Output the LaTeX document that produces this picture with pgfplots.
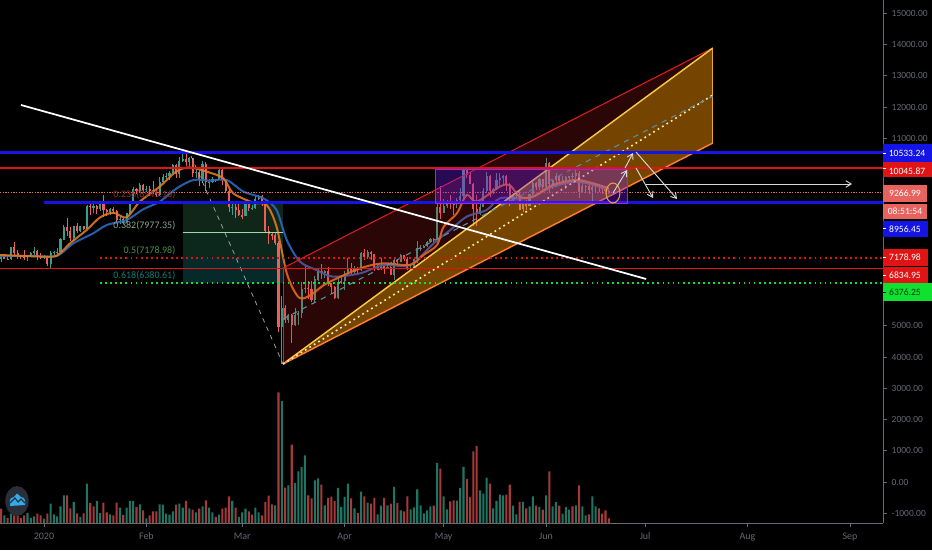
\documentclass[border=0pt]{standalone}
\usepackage{pgfplots}
\usepackage{pgfplotstable}
\usepackage{fontspec}
\setmainfont{Carlito}
\pgfplotsset{compat=1.18}
\usetikzlibrary{arrows.meta}
\definecolor{upc}{HTML}{3E9C8C}
\definecolor{dnc}{HTML}{EE5F5A}
\definecolor{vup}{HTML}{1F7564}
\definecolor{vdn}{HTML}{A63A3A}
\definecolor{axgray}{HTML}{666974}
\definecolor{tblue}{HTML}{1414E6}
\definecolor{tred}{HTML}{E01414}
\definecolor{tsal}{HTML}{E8625E}
\definecolor{tgreen}{HTML}{10E030}
\definecolor{fa}{RGB}{16,38,24}
\definecolor{fb}{RGB}{12,40,28}
\definecolor{fc}{RGB}{6,42,42}
\definecolor{emas}{RGB}{42,105,190}
\definecolor{emaf}{RGB}{226,122,32}
\definecolor{chred}{RGB}{216,30,30}
\definecolor{chor}{RGB}{255,152,0}
\definecolor{chyel}{RGB}{245,200,66}
\definecolor{chorl}{RGB}{255,125,45}
\definecolor{chedge}{RGB}{230,170,50}
\definecolor{chdot}{RGB}{255,235,180}
\definecolor{chdash}{RGB}{90,145,165}
\definecolor{fibl}{RGB}{165,214,167}
\definecolor{la}{RGB}{140,50,50}
\definecolor{lb}{RGB}{135,165,140}
\definecolor{lc}{RGB}{75,140,75}
\definecolor{ld}{RGB}{15,125,115}
\definecolor{boxf}{RGB}{123,31,255}
\definecolor{boxd}{RGB}{150,40,230}
\definecolor{ell}{RGB}{226,160,60}
\definecolor{dgreen}{RGB}{0,60,20}
\definecolor{logob}{RGB}{42,46,57}
\definecolor{logoc}{RGB}{50,170,235}
\pgfplotstableread{
d o h l c
-13 7140 7210 7050 7190
-12 7190 7220 7120 7150
-11 7150 7190 7120 7140
-10 7140 7520 7110 7510
-9 7510 7680 7260 7320
-8 7320 7440 7150 7250
-7 7250 7270 7130 7200
-6 7200 7430 7110 7190
-5 7190 7280 7080 7250
-4 7250 7360 7220 7320
-3 7320 7520 7280 7390
-2 7390 7410 7120 7220
-1 7220 7320 7150 7170
0 7170 7260 7150 7200
1 7200 7210 6900 6965
2 6965 7400 6850 7340
3 7340 7400 7270 7355
4 7355 7490 7310 7360
5 7360 7800 7350 7760
6 7760 8210 7730 8160
7 8160 8460 7880 8045
8 8045 8170 7720 7815
9 7815 8200 7700 8180
10 8180 8300 7960 8020
11 8020 8200 8000 8190
12 8190 8200 8060 8110
13 8110 8880 8110 8840
14 8840 8900 8540 8810
15 8810 8900 8620 8820
16 8820 8870 8570 8720
17 8720 9000 8680 8900
18 8900 9190 8480 8700
19 8700 8750 8520 8630
20 8630 8780 8560 8730
21 8730 8800 8560 8660
22 8660 8700 8300 8390
23 8390 8520 8240 8430
24 8430 8460 8260 8330
25 8330 8620 8290 8600
26 8600 8970 8560 8900
27 8900 9430 8880 9390
28 9390 9400 9200 9300
29 9300 9580 9250 9500
30 9500 9530 9240 9350
31 9350 9460 9290 9380
32 9380 9480 9150 9340
33 9340 9620 9220 9290
34 9290 9350 9120 9180
35 9180 9770 9160 9615
36 9615 9860 9520 9760
37 9760 9880 9680 9800
38 9800 9950 9680 9900
39 9900 10170 9880 10150
40 10150 10190 9730 9850
41 9850 10390 9730 10270
42 10270 10480 10250 10350
43 10350 10520 10100 10240
44 10240 10400 10120 10370
45 10370 10380 9750 9900
46 9900 10070 9720 9930
47 9930 9970 9460 9700
48 9700 10280 9580 10180
49 10180 10250 9300 9600
50 9600 9680 9400 9610
51 9610 9770 9570 9690
52 9690 9700 9600 9665
53 9665 10000 9650 9970
54 9970 10030 9500 9660
55 9660 9670 9260 9310
56 9310 9370 8640 8790
57 8790 8980 8530 8810
58 8810 8900 8450 8710
59 8710 8900 8520 8530
60 8530 8750 8410 8520
61 8520 8950 8500 8910
62 8910 8920 8660 8755
63 8755 8850 8700 8760
64 8760 9150 8750 9070
65 9070 9170 9010 9160
66 9160 9190 8840 8900
67 8900 8900 8000 8040
68 8040 8200 7630 7930
69 7930 8000 7730 7900
70 7900 7980 7590 7650
71 7650 7700 4800 4970
72 4970 5960 3780 5560
73 5560 5660 5090 5170
74 5170 5370 5100 5360
75 5360 5380 4450 5030
76 5030 5570 4990 5330
77 5330 5460 5030 5420
78 5420 6390 5260 6190
79 6190 6900 6050 6200
80 6200 6440 5870 6190
81 6190 6430 5760 5830
82 5830 6600 5720 6480
83 6480 6840 6420 6760
84 6760 6980 6500 6690
85 6690 6780 6530 6760
86 6760 6870 6260 6370
87 6370 6370 6030 6250
88 6250 6270 5860 5880
89 5880 6520 5860 6400
90 6400 6600 6350 6420
91 6420 6740 6160 6640
92 6640 7180 6580 6800
93 6800 7000 6670 6730
94 6730 6900 6650 6860
95 6860 6890 6670 6770
96 6770 7360 6760 7340
97 7340 7450 7100 7200
98 7200 7430 7150 7370
99 7370 7380 7110 7290
100 7290 7300 6750 6860
101 6860 6960 6780 6880
102 6880 7180 6790 6910
103 6910 6920 6640 6860
104 6860 6990 6800 6870
105 6870 6920 6610 6630
106 6630 7170 6470 7110
107 7110 7150 6920 7040
108 7040 7300 7030 7260
109 7260 7270 7060 7130
110 7130 7190 6780 6850
111 6850 6950 6750 6860
112 6860 7160 6820 7130
113 7130 7700 7020 7480
114 7480 7580 7400 7500
115 7500 7580 7480 7540
116 7540 7720 7510 7690
117 7690 7800 7650 7790
118 7790 7800 7680 7750
119 7750 8960 7730 8790
120 8790 9470 8410 8620
121 8620 9060 8620 8830
122 8830 9010 8780 8980
123 8980 9190 8730 8900
124 8900 8980 8530 8880
125 8880 9100 8770 9030
126 9030 9400 8930 9150
127 9150 10070 9050 9990
128 9990 10070 9720 9810
129 9810 9920 9520 9540
130 9540 9580 8200 8720
131 8720 9170 8200 8560
132 8560 8950 8540 8810
133 8810 9400 8790 9310
134 9310 9930 9260 9790
135 9790 9840 9130 9310
136 9310 9400 9230 9380
137 9380 9880 9330 9670
138 9670 9890 9480 9730
139 9730 9840 9480 9780
140 9780 9820 9300 9510
141 9510 9560 8820 9060
142 9060 9260 8940 9170
143 9170 9300 9090 9180
144 9180 9310 8700 8720
145 8720 8970 8640 8900
146 8900 9010 8700 8840
147 8840 9210 8820 9200
148 9200 9620 9120 9580
149 9580 9600 9340 9430
150 9430 9730 9340 9700
151 9700 9700 9370 9450
152 9450 10380 9420 10200
153 10200 10230 9270 9520
154 9520 9680 9390 9670
155 9670 9880 9450 9790
156 9790 9840 9530 9620
157 9620 9800 9600 9670
158 9670 9800 9380 9750
159 9750 9800 9640 9780
160 9780 9880 9570 9790
161 9790 9990 9690 9890
162 9890 9940 9080 9280
163 9280 9560 9240 9470
164 9470 9490 9250 9475
165 9475 9500 9200 9330
166 9330 9500 8910 9430
167 9430 9570 9240 9520
168 9520 9540 9270 9460
169 9460 9480 9220 9380
170 9380 9450 9210 9300
171 9300 9400 9200 9267
}\candles
\pgfplotstableread{
d v s
-13 459 0
-12 245 1
-11 160 0
-10 299 1
-9 245 0
-8 245 0
-7 160 0
-6 245 0
-5 320 1
-4 160 1
-3 213 1
-2 299 0
-1 245 0
0 139 1
1 299 0
2 619 1
3 277 1
4 213 1
5 533 1
6 885 1
7 885 0
8 469 0
9 672 1
10 309 0
11 192 1
12 309 0
13 1259 1
14 640 0
15 533 0
16 704 1
17 320 1
18 651 0
19 341 0
20 277 1
21 245 0
22 651 0
23 491 1
24 256 0
25 491 1
26 704 1
27 704 1
28 512 0
29 597 1
30 405 0
31 149 1
32 245 0
33 373 0
34 373 0
35 597 1
36 587 1
37 299 1
38 267 1
39 373 1
40 587 0
41 619 1
42 491 1
43 704 0
44 469 1
45 427 0
46 341 1
47 459 0
48 533 1
49 725 0
50 491 1
51 341 1
52 192 0
53 267 1
54 459 0
55 491 0
56 853 0
57 704 1
58 491 0
59 192 1
60 341 1
61 459 1
62 373 0
63 267 0
64 491 1
65 341 1
66 245 0
67 672 0
68 875 0
69 597 0
70 565 1
71 4181 0
72 3904 1
73 1131 0
74 1205 1
75 2507 0
76 1280 1
77 1653 1
78 1792 1
79 2165 1
80 885 0
81 789 0
82 1365 1
83 1429 1
84 1227 0
85 565 1
86 800 0
87 843 0
88 704 0
89 1120 1
90 512 1
91 832 1
92 1259 1
93 789 0
94 469 1
95 320 0
96 1003 1
97 853 0
98 651 1
99 619 0
100 800 0
101 277 1
102 555 1
103 800 0
104 565 1
105 619 0
106 1152 1
107 640 0
108 405 1
109 373 0
110 853 0
111 437 1
112 501 1
113 1077 1
114 565 1
115 309 1
116 405 1
117 533 1
118 555 0
119 1920 1
120 1739 0
121 853 1
122 437 1
123 693 0
124 725 0
125 715 1
126 1120 1
127 1792 1
128 1408 0
129 832 0
130 2293 0
131 2464 0
132 1045 1
133 939 1
134 1451 1
135 1259 0
136 469 1
137 704 1
138 907 1
139 885 1
140 907 0
141 1227 0
142 555 1
143 277 1
144 672 0
145 672 1
146 469 0
147 533 1
148 853 1
149 555 0
150 512 1
151 427 0
152 885 1
153 1653 0
154 533 1
155 672 1
156 555 0
157 299 1
158 512 1
159 427 1
160 533 0
161 565 1
162 1205 0
163 533 1
164 245 1
165 277 0
166 853 1
167 533 1
168 469 0
169 299 0
170 405 0
171 149 0
}\volumes
\pgfplotstableread{
d p
-13.3 7264
1.8 7211
4.8 7317
7.9 7637
12.9 8064
17 8469
21 8618
25 8469
29 8970
35 9450
40 9930
44 10069
49.3 9930
54.3 9717
57.3 9237
63.4 8938
67.4 8864
70.4 8170
73.5 6677
76.5 5984
78.5 5877
81.5 6037
85.6 6357
95.7 6837
102.8 6997
110.8 6944
114.9 7264
119 7584
121 8170
125 8597
128 9184
131 8970
138 9450
141 9504
144 9130
148 9130
154 9504
161 9664
166.3 9557
171 9397
}\emafast
\pgfplotstableread{
d p
-13.3 7232
-3.2 7232
3.8 7232
8.9 7637
14.9 7957
19 8224
25 8384
30 8725
35 8970
40.2 9397
45.2 9664
50.2 9643
55.3 9664
60.4 9291
66.4 9077
70.4 8704
73.5 7744
77.5 7051
82.5 6784
87.5 6570
95.7 6677
102.8 6944
110.8 6944
118 7637
123 8064
128 8491
134 8704
138 9077
144 9077
148 9130
154 9450
161 9611
166.3 9504
171 9344
}\emaslow
\pgfplotsset{
 cand/.style 2 args={draw=none,mark=none,forget plot,
   error bars/.cd,y dir=both,y explicit,error mark=none,
   error bar style={line width=#1,color=#2,solid}},
}
\begin{document}
\begin{tikzpicture}
\useasboundingbox (0,0) rectangle (699pt,412.5pt);
\fill[black] (0,0) rectangle (699pt,412.5pt);
% volume, on its own scale with the same pixel size
\begin{axis}[at={(0pt,20.25pt)},anchor=south west,width=662.25pt,height=392.25pt,scale only axis,
  hide axis,xmin=-13.32,xmax=254.01,ymin=0,ymax=16736,ybar,bar width=1.55pt,bar shift=0pt]
\addplot[fill=vup,draw=none] table[x=d,y expr={\thisrow{s}>0.5 ? \thisrow{v} : nan}]{\volumes};
\addplot[fill=vdn,draw=none] table[x=d,y expr={\thisrow{s}<0.5 ? \thisrow{v} : nan}]{\volumes};
\end{axis}
% price
\begin{axis}[at={(0pt,20.25pt)},anchor=south west,width=662.25pt,height=392.25pt,scale only axis,
  xmin=-13.32,xmax=254.01,ymin=-1312,ymax=15424,
  axis x line*=bottom,axis y line*=right,
  axis line style={draw=axgray,line width=0.5pt},
  tick style={draw=axgray,line width=0.5pt},
  major tick length=3pt,tick align=outside,
  scaled y ticks=false,
  xtick={0,31,60,91,121,152,182,213,244},
  xticklabels={2020,Feb,Mar,Apr,May,Jun,Jul,Aug,Sep},
  ytick={-1000,0,1000,2000,3000,4000,5000,11000,12000,13000,14000,15000},
  /pgf/number format/fixed,/pgf/number format/fixed zerofill,/pgf/number format/precision=2,
  /pgf/number format/1000 sep={},/pgf/number format/assume math mode=true,
  yticklabel style={font=\fontsize{7.1pt}{8pt}\selectfont,text=axgray},
  xticklabel style={font=\fontsize{7.5pt}{9pt}\selectfont,text=axgray,yshift=-1pt},
  ]
% Fibonacci bands
\addplot[fill=fa,draw=none,forget plot] coordinates {(42.08,8896)(72.36,8896)(72.36,7968)(42.08,7968)} --cycle;
\addplot[fill=fb,draw=none,forget plot] coordinates {(42.08,7968)(72.36,7968)(72.36,7168)(42.08,7168)} --cycle;
\addplot[fill=fc,draw=none,forget plot] coordinates {(42.08,7168)(72.36,7168)(72.36,6368)(42.08,6368)} --cycle;
% candles
\addplot[cand={0.6pt}{upc}] table[x expr={\thisrow{c}>=\thisrow{o} ? \thisrow{d} : nan},y expr=(\thisrow{h}+\thisrow{l})/2,y error expr=(\thisrow{h}-\thisrow{l})/2]{\candles};
\addplot[cand={0.6pt}{dnc}] table[x expr={\thisrow{c}<\thisrow{o} ? \thisrow{d} : nan},y expr=(\thisrow{h}+\thisrow{l})/2,y error expr=(\thisrow{h}-\thisrow{l})/2]{\candles};
\addplot[cand={1.6pt}{upc}] table[x expr={\thisrow{c}>=\thisrow{o} ? \thisrow{d} : nan},y expr=(\thisrow{o}+\thisrow{c})/2,y error expr=abs(\thisrow{c}-\thisrow{o})/2]{\candles};
\addplot[cand={1.6pt}{dnc}] table[x expr={\thisrow{c}<\thisrow{o} ? \thisrow{d} : nan},y expr=(\thisrow{o}+\thisrow{c})/2,y error expr=abs(\thisrow{c}-\thisrow{o})/2]{\candles};
% moving averages
\addplot[smooth,color=emas,line width=1.5pt,opacity=0.9] table[x=d,y=p]{\emaslow};
\addplot[smooth,color=emaf,line width=1.5pt,opacity=0.9] table[x=d,y=p]{\emafast};
% channel
\addplot[fill=chred,fill opacity=0.2,draw=none,forget plot] coordinates {(72.36,3776)(72.36,6848)(202.5,13888)} --cycle;
\addplot[fill=chor,fill opacity=0.46,draw=none,forget plot] coordinates {(72.36,3776)(202.5,13888)(202.5,10848)} --cycle;
\addplot[color=chred,line width=0.8pt] coordinates {(72.36,6848)(202.5,13888)};
\addplot[color=chred,line width=0.6pt] coordinates {(72.36,3776)(72.36,6848)};
\addplot[color=chyel,line width=1.1pt] coordinates {(72.36,3776)(202.5,13888)};
\addplot[color=chorl,line width=1.1pt] coordinates {(72.36,3776)(202.5,10848)};
\addplot[color=chedge,line width=0.8pt] coordinates {(202.5,10848)(202.5,13888)};
\addplot[color=chdot,line width=1.2pt,dash pattern=on 1.3pt off 2.6pt] coordinates {(72.36,3776)(202.5,12384)};
\addplot[color=chdash,line width=0.8pt,dash pattern=on 4pt off 4pt] coordinates {(72.36,5216)(202.5,12352)};
% fib diagonal
\addplot[color=white!70!black,line width=0.5pt,dash pattern=on 3.5pt off 3.5pt] coordinates {(44.5,10432)(72.36,3776)};
\addplot[color=fibl,line width=0.7pt] coordinates {(42.08,7977)(72.36,7977)};
% horizontal levels
\addplot[color=tsal,line width=0.5pt,dash pattern=on 1pt off 1pt] coordinates {(-13.32,9267)(254.01,9267)};
\addplot[color=tred,line width=1.4pt] coordinates {(-13.32,10045.87)(254.01,10045.87)};
\addplot[color=tred,line width=1pt] coordinates {(-13.32,6834.95)(254.01,6834.95)};
\addplot[color=tred,line width=1.3pt,dash pattern=on 1.4pt off 2.4pt] coordinates {(17,7178.98)(254.01,7178.98)};
\addplot[color=tgreen,line width=1.3pt,dash pattern=on 1.3pt off 2.5pt] coordinates {(17,6376.25)(254.01,6376.25)};
\addplot[color=tblue,line width=2.3pt] coordinates {(-13.32,10533.24)(254.01,10533.24)};
\addplot[color=tblue,line width=2.3pt] coordinates {(0,8956.45)(254.01,8956.45)};
% trend line
\addplot[color=white,line width=1.3pt] coordinates {(-6.96,12064)(182.3,6496)};
\end{axis}
\begin{scope}[x=0.75pt,y=-0.75pt,yshift=412.5pt]
% fibonacci labels
\node[anchor=east,text=la,font=\fontsize{7.5pt}{9pt}\selectfont] at (180,195) {0.236(8945.16)};
\node[anchor=east,text=lb,font=\fontsize{7.5pt}{9pt}\selectfont] at (180,226) {0.382(7977.35)};
\node[anchor=east,text=lc,font=\fontsize{7.5pt}{9pt}\selectfont] at (180,251) {0.5(7178.98)};
\node[anchor=east,text=ld,font=\fontsize{7.5pt}{9pt}\selectfont] at (180,276) {0.618(6380.61)};
% purple box
\fill[fill=boxf,fill opacity=0.33] (435,169) rectangle (627,203);
\draw[color=boxd,line width=0.7pt] (435,169) rectangle (627,203);
\draw[color=ell,line width=0.8pt] (613,193) ellipse (5.2pt and 7.5pt);
% arrows
\draw[white!85!black,line width=0.7pt,-{Straight Barb[length=4pt,width=5pt]}] (613,193) -- (627,170);
\draw[white!85!black,line width=0.7pt,-{Straight Barb[length=4pt,width=5pt]}] (625,168) -- (633,153);
\draw[white!85!black,line width=0.7pt,-{Straight Barb[length=4pt,width=5pt]}] (636,152) -- (677,199);
\draw[white!85!black,line width=0.7pt,-{Straight Barb[length=4pt,width=5pt]}] (636,168) -- (653,198);
\draw[white!85!black,line width=0.7pt,-{Straight Barb[length=4pt,width=5pt]}] (645,184) -- (852,184);
% price tags
\fill[tblue] (883,144) rectangle (932,162.5);
\draw[white,line width=0.5pt] (883,153) -- (886,153);
\node[text=white,font=\fontsize{7.2pt}{8pt}\selectfont,inner sep=0pt] at (907,153.5) {10533.24};
\fill[tred] (883,162.5) rectangle (932,177);
\draw[white,line width=0.5pt] (883,168) -- (886,168);
\node[text=white,font=\fontsize{7.2pt}{8pt}\selectfont,inner sep=0pt] at (907,171) {10045.87};
\fill[tsal] (883,185) rectangle (927,202);
\node[text=white,font=\fontsize{7.2pt}{8pt}\selectfont,inner sep=0pt] at (905,193.5) {9266.99};
\fill[tsal] (883,204) rectangle (927,219);
\node[text=white,font=\fontsize{7.2pt}{8pt}\selectfont,inner sep=0pt] at (905,211.5) {08:51:54};
\fill[tblue] (883,221) rectangle (928,237);
\draw[white,line width=0.5pt] (883,228) -- (886,228);
\node[text=white,font=\fontsize{7.2pt}{8pt}\selectfont,inner sep=0pt] at (905,229) {8956.45};
\fill[tred] (883,249) rectangle (928,266);
\draw[white,line width=0.5pt] (883,257) -- (886,257);
\node[text=white,font=\fontsize{7.2pt}{8pt}\selectfont,inner sep=0pt] at (905,257.5) {7178.98};
\fill[tred] (883,267) rectangle (928,283);
\draw[white,line width=0.5pt] (883,275) -- (886,275);
\node[text=white,font=\fontsize{7.2pt}{8pt}\selectfont,inner sep=0pt] at (905,275) {6834.95};
\fill[tgreen] (883,283) rectangle (932,301);
\draw[black,line width=0.5pt] (883,292) -- (886,292);
\node[text=dgreen,font=\fontsize{7.2pt}{8pt}\selectfont,inner sep=0pt] at (905,292) {6376.25};
% logo
\fill[color=logob] (17,501) ellipse (8.8pt and 11.2pt);
\fill[color=logoc] (10,504) .. controls (9,498) and (12,497) .. (14,497) -- (17,493.5) -- (21,497) .. controls (25,497) and (26,502) .. (25,505) -- (10,506) -- cycle;
\draw[color=logob,line width=0.8pt] (10,503) -- (15,498) -- (18,502) -- (21,499) -- (25,503);
\end{scope}
\end{tikzpicture}
\end{document}
